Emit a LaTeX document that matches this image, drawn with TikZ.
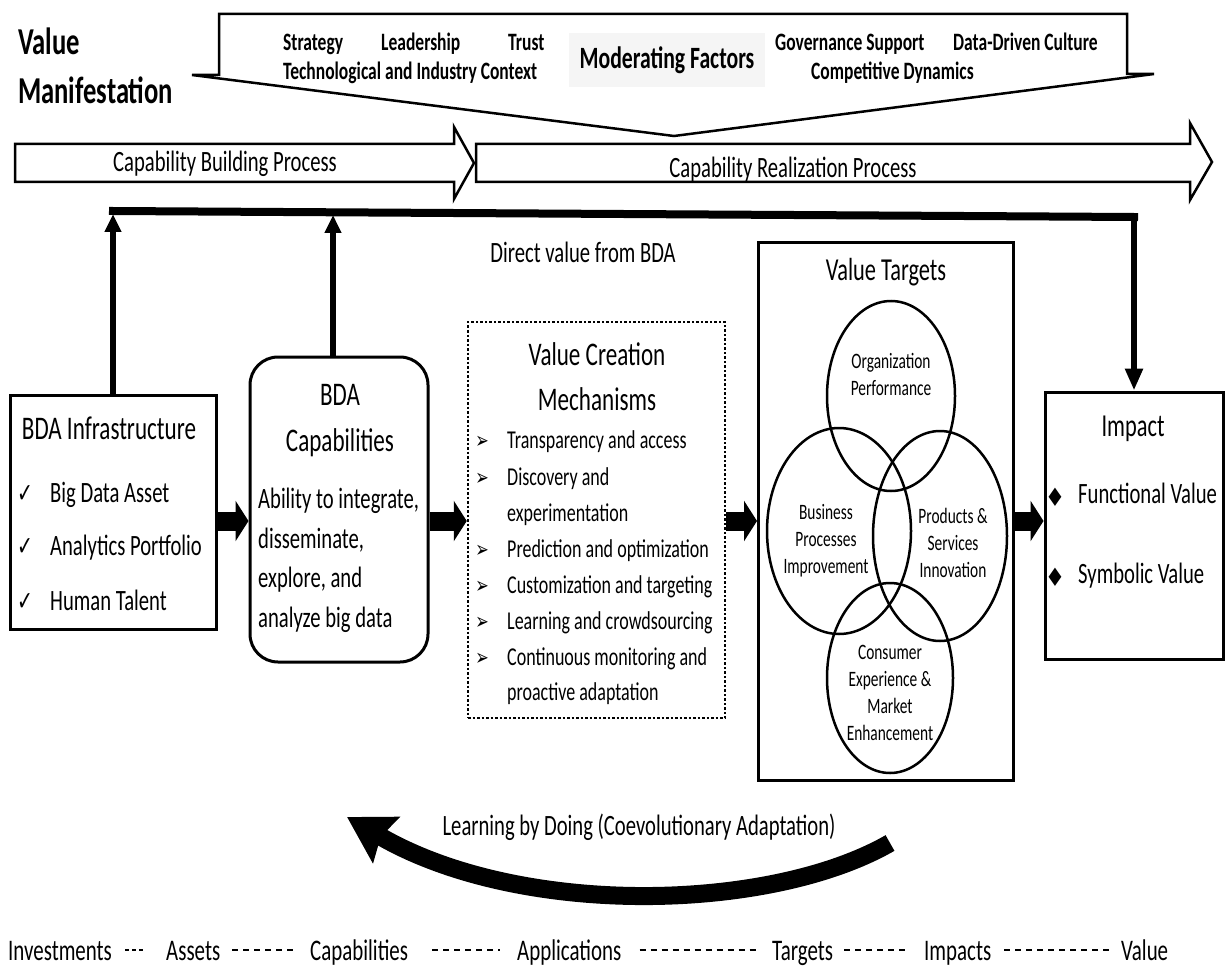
\documentclass[tikz,border=0pt]{standalone}
\usepackage{fontspec}
\setmainfont{Carlito}[FakeStretch=0.7]
\newfontfamily\sym{DejaVu Sans}[FakeStretch=0.7]
\usetikzlibrary{arrows.meta,calc}
\newcommand\fsz[1]{\fontsize{#1pt}{1.2\dimexpr#1pt\relax}\selectfont}
\tikzset{
  tw/.style={inner sep=0pt, anchor=base west},
  tc/.style={inner sep=0pt, anchor=base},
  bodyf/.style={font=\fsz{29.5}},
  hdf/.style={font=\fsz{33}},
  itf/.style={font=\fsz{25.7}},
  topf/.style={font=\bfseries\fsz{25}},
  bx/.style={draw, line width=3pt, inner sep=0pt},
  shp/.style={draw, line width=2.5pt, line join=miter},
  blk/.style={line width=19pt, -{Triangle[length=13pt,width=40pt]}},
  upar/.style={line width=5.5pt, -{Triangle[length=18pt,width=16pt]}},
  dnar/.style={line width=6pt, -{Triangle[length=22pt,width=17pt]}},
  vn/.style={font=\fontsize{22pt}{27pt}\selectfont, align=center, inner sep=0pt},
  ven/.style={line width=2.5pt},
  chk/.style={inner sep=0pt, anchor=base, font=\sym\fontsize{27pt}{30pt}\selectfont},
  bul/.style={inner sep=0pt, anchor=base, font=\sym\fontsize{23pt}{26pt}\selectfont},
  dia/.style={inner sep=0pt, anchor=base, font=\sym\fontsize{24pt}{28pt}\selectfont},
  leg/.style={line width=2.5pt, dash pattern=on 6pt off 5pt},
  legf/.style={font=\fsz{29.9}},
}
\begin{document}
\begin{tikzpicture}[x=1pt, y=-1pt]
\useasboundingbox (0,0) rectangle (1225,968);

% ---- title
\node[tw, font=\bfseries\fsz{38}] (vm1) at (18,55) {Value};
\node[tw, font=\bfseries\fsz{38}] (vm2) at (18,104) {Manifestation};

% ---- moderating factors shape
\draw[shp] (219,14) -- (1127,14) -- (1127,74) -- (1154,74) -- (674,136) -- (192,75) -- (219,75) -- cycle;
\node[fill=black!4, inner sep=0pt, minimum width=196pt, minimum height=54pt,
      font=\bfseries\fsz{31}] (mod) at (667,60) {Moderating Factors};
\node[tw, topf] (m1) at (283,51) {Strategy};
\node[tw, topf] (m2) at (381,51) {Leadership};
\node[tw, topf] (m3) at (508,51) {Trust};
\node[tw, topf] (m4) at (283,80) {Technological and Industry Context};
\node[tw, topf] (m5) at (775,51) {Governance Support};
\node[tw, topf] (m6) at (953,51) {Data-Driven Culture};
\node[tw, topf] (m7) at (811,80) {Competitive Dynamics};

% ---- process arrows
\draw[shp, fill=white] (476,144) -- (1190,144) -- (1190,123) -- (1212,162) -- (1190,200) -- (1190,182) -- (476,182) -- cycle;
\draw[shp, fill=white] (15,144) -- (454,144) -- (454,127) -- (474,163) -- (454,199) -- (454,182) -- (15,182) -- cycle;
\node[tc, bodyf] (cbp) at (225,172) {Capability Building Process};
\node[tc, bodyf] (crp) at (793,178) {Capability Realization Process};

% ---- main boxes
\node[bx, minimum width=206pt, minimum height=234pt] (infra) at (113,512) {};
\node[bx, rounded corners=28pt, minimum width=178pt, minimum height=305pt] (cap) at (339,509.5) {};
\node[draw, line width=2.5pt, dash pattern=on 2.5pt off 2pt, inner sep=0pt,
      minimum width=257pt, minimum height=396pt] (vcm) at (596.5,520) {};
\node[bx, minimum width=255pt, minimum height=537pt] (vt) at (886,511.5) {};
\node[bx, minimum width=178pt, minimum height=267pt] (imp) at (1134,525.5) {};

% ---- infrastructure text
\node[tc, hdf] (infh) at (109,439) {BDA Infrastructure};
\node[chk] (k1) at (25,502) {✓};
\node[chk] (k2) at (25,555) {✓};
\node[chk] (k3) at (25,610) {✓};
\node[tw, bodyf] (i1) at (50,502) {Big Data Asset};
\node[tw, bodyf] (i2) at (50,555) {Analytics Portfolio};
\node[tw, bodyf] (i3) at (50,610) {Human Talent};

% ---- capabilities text
\node[tc, hdf] (caph1) at (340,405) {BDA};
\node[tc, hdf] (caph2) at (340,451) {Capabilities};
\node[tw, bodyf] (c1t) at (258,508) {Ability to integrate,};
\node[tw, bodyf] (c2t) at (258,548) {disseminate,};
\node[tw, bodyf] (c3t) at (258,587) {explore, and};
\node[tw, bodyf] (c4t) at (258,627) {analyze big data};

% ---- value creation mechanisms
\node[tc, hdf] (vch1) at (597,365) {Value Creation};
\node[tc, hdf] (vch2) at (597,410) {Mechanisms};
\node[bul] (b1) at (482,448) {➢};
\node[bul] (b2) at (482,485) {➢};
\node[bul] (b3) at (482,557) {➢};
\node[bul] (b4) at (482,593) {➢};
\node[bul] (b5) at (482,629) {➢};
\node[bul] (b6) at (482,665) {➢};
\node[tw, itf] (v1) at (507,448) {Transparency and access};
\node[tw, itf] (v2) at (507,485) {Discovery and};
\node[tw, itf] (v2b) at (507,521) {experimentation};
\node[tw, itf] (v3) at (507,557) {Prediction and optimization};
\node[tw, itf] (v4) at (507,593) {Customization and targeting};
\node[tw, itf] (v5) at (507,629) {Learning and crowdsourcing};
\node[tw, itf] (v6) at (507,665) {Continuous monitoring and};
\node[tw, itf] (v6b) at (507,700) {proactive adaptation};

% ---- value targets
\node[tc, font=\fsz{32}] (vth) at (886,280) {Value Targets};
\draw[ven] (891,396) ellipse [x radius=64pt, y radius=95pt];
\draw[ven] (839,531) ellipse [x radius=72pt, y radius=103pt];
\draw[ven] (940,536) ellipse [x radius=67pt, y radius=105pt];
\draw[ven] (890,678) ellipse [x radius=63pt, y radius=95pt];
\node[vn] (org) at (891,374) {Organization\\Performance};
\node[vn] (bpi) at (826,541) {Business\\Processes\\Improvement};
\node[vn] (psi) at (953,543) {Products \&\\Services\\Innovation};
\node[vn] (cem) at (890,693) {Consumer\\Experience \&\\Market\\Enhancement};

% ---- impact
\node[tc, font=\fsz{32}] (imph) at (1133,436) {Impact};
\node[dia] (d1) at (1055,503) {◆};
\node[dia] (d2) at (1055,583) {◆};
\node[tw, bodyf] (fv) at (1078,503) {Functional Value};
\node[tw, bodyf] (sv) at (1078,583) {Symbolic Value};

% ---- block arrows
\coordinate (ay) at (0,521);
\draw[blk] (infra.east |- ay) -- (cap.west |- ay);
\draw[blk] (cap.east |- ay) -- (vcm.west |- ay);
\draw[blk] (vcm.east |- ay) -- (vt.west |- ay);
\draw[blk] (vt.east |- ay) -- (imp.west |- ay);

% ---- direct value connector
\coordinate (h1) at (113,211);
\coordinate (h3) at (1134,217);
\coordinate (capup) at ($(cap.north)+(-6,0)$);
\draw[upar] (infra.north) -- (infra.north |- 0,214);
\draw[upar] (capup) -- (capup |- 0,215);
\draw[line width=8pt, line cap=rect] (h1) -- (h3);
\draw[dnar] (h3) -- (imp.north);
\node[tc, bodyf] (dv) at (583,262) {Direct value from BDA};

% ---- learning by doing
\coordinate (lt) at (890,843);
\coordinate (lh) at (347,817);
\draw[line width=18pt, -{Stealth[length=45pt,width=52pt,inset=6pt]}] (lt) .. controls (770,912) and (520,918) .. (lh);
\node[tc, bodyf] (lbd) at (639,835) {Learning by Doing (Coevolutionary Adaptation)};

% ---- legend
\node[tw, legf] (g1) at (8,960) {Investments};
\node[tw, legf] (g2) at (166,960) {Assets};
\node[tw, legf] (g3) at (310,960) {Capabilities};
\node[tw, legf] (g4) at (517,960) {Applications};
\node[tw, legf] (g5) at (772,960) {Targets};
\node[tw, legf] (g6) at (924,960) {Impacts};
\node[tw, legf] (g7) at (1121,960) {Value};
\draw[line width=2.5pt, dash pattern=on 4pt off 3pt] ([shift={(13pt,10pt)}]g1.base east) -- ([shift={(-20pt,10pt)}]g2.base west);
\draw[leg] ([shift={(12pt,10pt)}]g2.base east) -- ([shift={(-13pt,10pt)}]g3.base west);
\draw[leg] ([shift={(24pt,10pt)}]g3.base east) -- ([shift={(-17pt,10pt)}]g4.base west);
\draw[leg] ([shift={(18pt,10pt)}]g4.base east) -- ([shift={(-14pt,10pt)}]g5.base west);
\draw[leg] ([shift={(11pt,10pt)}]g5.base east) -- ([shift={(-18pt,10pt)}]g6.base west);
\draw[leg] ([shift={(13pt,10pt)}]g6.base east) -- ([shift={(-11pt,10pt)}]g7.base west);
\end{tikzpicture}
\end{document}
